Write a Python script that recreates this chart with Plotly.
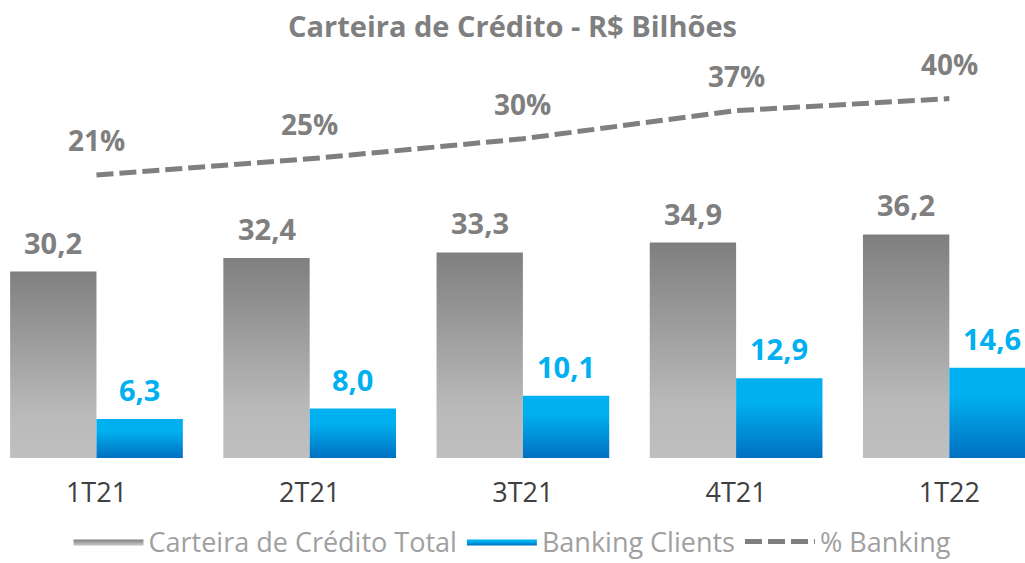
import plotly.graph_objects as go

# 데이터
quarters = ["1T21", "2T21", "3T21", "4T21", "1T22"]
carteira_total = [30.2, 32.4, 33.3, 34.9, 36.2]
banking_clients = [6.3, 8.0, 10.1, 12.9, 14.6]
pct_banking = [21, 25, 30, 37, 40]

GRAY = "#7f7f7f"
BLUE = "#00b0f0"
FONT = "Open Sans"
BAR_W = 0.405

gray_scale = [[0, "#bfbfbf"], [0.25, "#b9b9b9"], [1, "#7f7f7f"]]
blue_scale = [[0, "#0070c0"], [0.7, "#00b0f0"], [1, "#00b0f0"]]

W, H = 1025, 563

fig = go.Figure()


def add_bar(i, v, left, scale, name, color, first):
    x0 = i - BAR_W if left else i
    x1 = i if left else i + BAR_W
    fig.add_trace(go.Scatter(
        x=[x0, x1, x1, x0, x0], y=[0, 0, v, v, 0],
        mode="lines", line=dict(width=0, color=color),
        fill="toself", fillcolor=color,
        fillgradient=dict(type="vertical", colorscale=scale, start=0, stop=v),
        name=name, legendgroup=name, showlegend=first,
        hoverinfo="skip",
    ))
    fig.add_annotation(
        x=(x0 + x1) / 2, y=v, xref="x", yref="y",
        text=f"{v:.1f}".replace(".", ","), showarrow=False,
        yanchor="bottom", yshift=8,
        font=dict(family=FONT, size=29, color=color, weight="bold"),
    )


for i, v in enumerate(carteira_total):
    add_bar(i, v, True, gray_scale, "Carteira de Crédito Total", GRAY, i == 0)
for i, v in enumerate(banking_clients):
    add_bar(i, v, False, blue_scale, "Banking Clients", BLUE, i == 0)

# % Banking (eixo secundário)
fig.add_trace(go.Scatter(
    x=list(range(len(quarters))), y=pct_banking, yaxis="y2",
    mode="lines", name="% Banking",
    line=dict(color=GRAY, width=5, dash="17px,6px"),
    hoverinfo="skip",
))
for i, p in enumerate(pct_banking):
    fig.add_annotation(
        x=i, y=p, xref="x", yref="y2", text=f"{p}%", showarrow=False,
        yanchor="bottom", yshift=14,
        font=dict(family=FONT, size=28, color=GRAY, weight="bold"),
    )

fig.update_xaxes(
    range=[-0.4525, 4.355],
    tickvals=list(range(len(quarters))), ticktext=quarters,
    tickfont=dict(family=FONT, size=27, color="#404040"),
    ticks="outside", ticklen=11, tickcolor="rgba(0,0,0,0)",
    showgrid=False, zeroline=False, showline=False,
)
fig.update_layout(
    width=W, height=H,
    margin=dict(l=0, r=0, t=40, b=105),
    paper_bgcolor="white", plot_bgcolor="white",
    yaxis=dict(range=[0, 67.7], visible=False),
    yaxis2=dict(range=[-49.5, 54.6], overlaying="y", visible=False),
    title=dict(
        text="Carteira de Crédito - R$ Bilhões",
        x=0.5, xanchor="center", y=1 - 27 / H, yanchor="middle",
        font=dict(family=FONT, size=29, color=GRAY, weight="bold"),
    ),
    legend=dict(
        orientation="h", x=0.5, xanchor="center",
        yref="container", y=21 / H, yanchor="middle",
        font=dict(family=FONT, size=27, color="#a0a0a0"),
        itemwidth=70, tracegroupgap=0,
    ),
    showlegend=True,
)

# body 기본 여백 제거 (창 크기에 딱 맞게)
fig.write_html(
    "out.html",
    config={"displayModeBar": False},
    post_script="document.body.style.margin='0';",
)
